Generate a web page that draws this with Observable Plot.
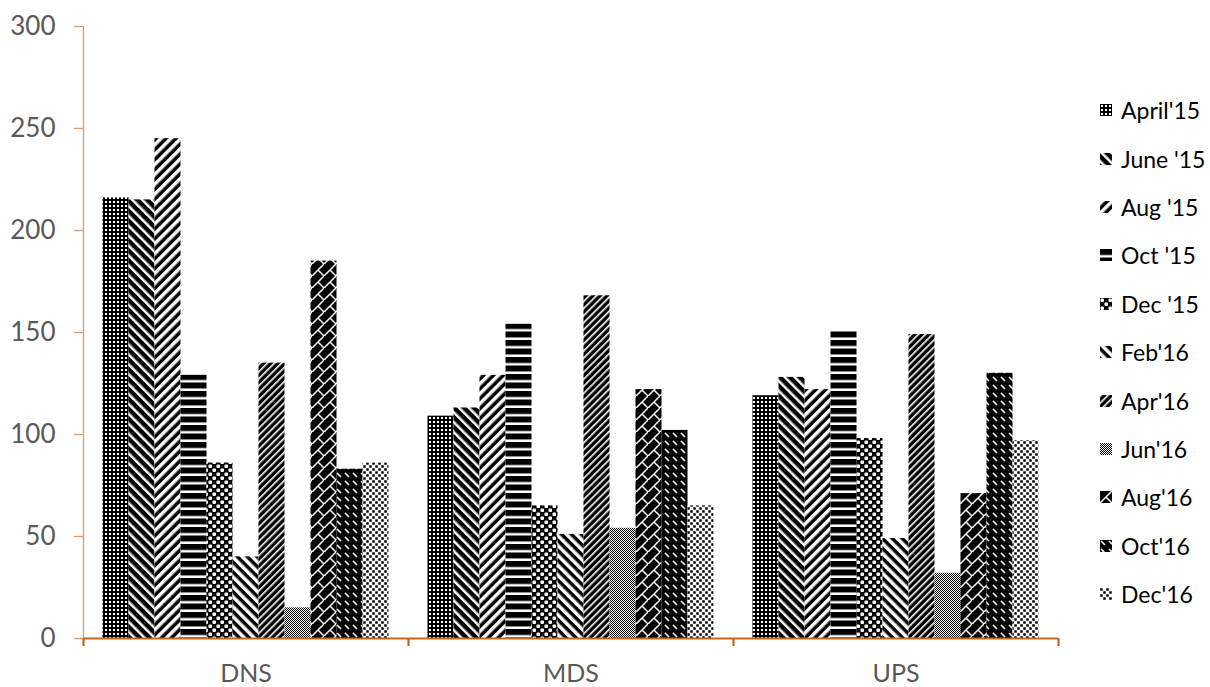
<!DOCTYPE html>
<html>
<head>
<meta charset="utf-8">
<script src="https://cdn.jsdelivr.net/npm/d3@7"></script>
<script src="https://cdn.jsdelivr.net/npm/@observablehq/plot@0.6"></script>
<style>
  body { margin: 0; background: #fff; }
  #wrap { position: relative; width: 1210px; height: 687px; font-family: Lato, "Open Sans", sans-serif; }
  #legend { position: absolute; left: 1100px; top: 86px; }
  .row { display: flex; align-items: center; height: 48.4px; font-size: 23px; color: #000; }
  .row svg { margin-right: 9px; flex: none; }
</style>
</head>
<body>
<svg width="0" height="0" style="position:absolute">
  <defs>
    <pattern id="pat0" width="4" height="4" patternUnits="userSpaceOnUse">
      <rect width="4" height="4" fill="#000"/><rect x="1" y="1" width="2" height="2" fill="#fff"/>
    </pattern>
    <pattern id="pat1" width="7" height="7" patternUnits="userSpaceOnUse" patternTransform="rotate(-45)">
      <rect width="7" height="7" fill="#000"/><rect width="2.5" height="7" fill="#fff"/>
    </pattern>
    <pattern id="pat2" width="7" height="7" patternUnits="userSpaceOnUse" patternTransform="rotate(45)">
      <rect width="7" height="7" fill="#000"/><rect width="3.5" height="7" fill="#fff"/>
    </pattern>
    <pattern id="pat3" width="8" height="8.5" patternUnits="userSpaceOnUse">
      <rect width="8" height="8.5" fill="#000"/><rect y="6" width="8" height="2.5" fill="#fff"/>
    </pattern>
    <pattern id="pat4" width="8" height="8" patternUnits="userSpaceOnUse">
      <rect width="8" height="8" fill="#000"/>
      <rect x="0.5" y="0.5" width="3.5" height="3.5" rx="1" fill="#fff"/>
      <rect x="4.5" y="4.5" width="3.5" height="3.5" rx="1" fill="#fff"/>
    </pattern>
    <pattern id="pat5" width="7" height="7" patternUnits="userSpaceOnUse" patternTransform="rotate(-45)">
      <rect width="7" height="7" fill="#000"/><rect width="3.5" height="7" fill="#fff"/>
    </pattern>
    <pattern id="pat6" width="5" height="5" patternUnits="userSpaceOnUse" patternTransform="rotate(45)">
      <rect width="5" height="5" fill="#000"/><rect width="1.6" height="5" fill="#fff"/>
    </pattern>
    <pattern id="pat7" width="2" height="2" patternUnits="userSpaceOnUse">
      <rect width="2" height="2" fill="#fff"/><rect width="1" height="1" fill="#000"/><rect x="1" y="1" width="1" height="1" fill="#000"/>
    </pattern>
    <pattern id="pat8" width="12" height="12" patternUnits="userSpaceOnUse">
      <rect width="12" height="12" fill="#000"/>
      <path d="M-1,13L13,-1M6,6L12,12" stroke="#fff" stroke-width="1.5" fill="none"/>
    </pattern>
    <pattern id="pat9" width="8" height="8" patternUnits="userSpaceOnUse">
      <rect width="8" height="8" fill="#000"/>
      <path d="M1,1L5,5" stroke="#fff" stroke-width="1.6" fill="none"/>
    </pattern>
    <pattern id="pat10" width="6" height="6" patternUnits="userSpaceOnUse">
      <rect width="6" height="6" fill="#fff"/>
      <rect x="0.25" y="0.25" width="2.5" height="2.5" fill="#000"/>
      <rect x="3.25" y="3.25" width="2.5" height="2.5" fill="#000"/>
    </pattern>
  </defs>
</svg>
<div id="wrap"><div id="legend"></div></div>
<script>
const categories = ["DNS", "MDS", "UPS"];
const series = ["April'15", "June '15", "Aug '15", "Oct '15", "Dec '15", "Feb'16", "Apr'16", "Jun'16", "Aug'16", "Oct'16", "Dec'16"];
const dnsValues = [216, 215, 245, 129, 86, 40, 135, 15, 185, 83, 86];
const mdsValues = [109, 113, 129, 154, 65, 51, 168, 54, 122, 102, 65];
const upsValues = [119, 128, 122, 151, 98, 49, 149, 32, 71, 130, 97];
const yTicks = [0, 50, 100, 150, 200, 250, 300];

const patternFills = series.map((_, j) => `url(#pat${j})`);
const valuesByCategory = [dnsValues, mdsValues, upsValues];

// slot layout inside each category band: 11 adjoining bars with 0.75 bar-width outer padding
const slots = series.length + 1.5;
const rows = [];
categories.forEach((cat, i) => {
  series.forEach((s, j) => {
    const x1 = i + (0.75 + j) / slots;
    rows.push({cat, series: s, value: valuesByCategory[i][j], x1, x2: x1 + 1 / slots, fill: patternFills[j]});
  });
});
const boundaries = d3.range(categories.length + 1);
const centers = categories.map((_, i) => i + 0.5);

const axisColor = "#C5651F";
const yAxisColor = "#E39A68";

const chart = Plot.plot({
  width: 1210,
  height: 687,
  marginLeft: 83,
  marginRight: 152,
  marginTop: 26,
  marginBottom: 49,
  style: {fontFamily: "Lato, 'Open Sans', sans-serif", background: "#fff"},
  x: {type: "linear", domain: [0, categories.length], axis: null},
  y: {domain: [0, 300], axis: null},
  color: {type: "identity"},
  marks: [
    Plot.rectY(rows, {x1: "x1", x2: "x2", y: "value", fill: "fill"}),
    Plot.ruleX([0], {stroke: yAxisColor, strokeWidth: 1.3}),
    Plot.axisY(yTicks, {anchor: "left", label: null, tickSize: 9, tickPadding: 19, stroke: yAxisColor, fill: "#595959", fontSize: 26, strokeWidth: 1.3}),
    Plot.ruleY([0], {stroke: axisColor, strokeWidth: 2.2}),
    Plot.axisX(boundaries, {anchor: "bottom", label: null, tickSize: 8, tickFormat: () => "", stroke: axisColor, strokeWidth: 2.2}),
    Plot.axisX(centers, {anchor: "bottom", label: null, tickSize: 0, tickPadding: 26, tickFormat: (d) => categories[Math.floor(d)], fill: "#595959", fontSize: 25})
  ]
});
const wrap = document.getElementById("wrap");
wrap.insertBefore(chart, wrap.firstChild);

const legend = document.getElementById("legend");
series.forEach((s, j) => {
  const row = document.createElement("div");
  row.className = "row";
  row.innerHTML = `<svg width="12" height="12"><rect width="12" height="12" fill="${patternFills[j]}"/></svg><span>${s}</span>`;
  legend.appendChild(row);
});
</script>
</body>
</html>
